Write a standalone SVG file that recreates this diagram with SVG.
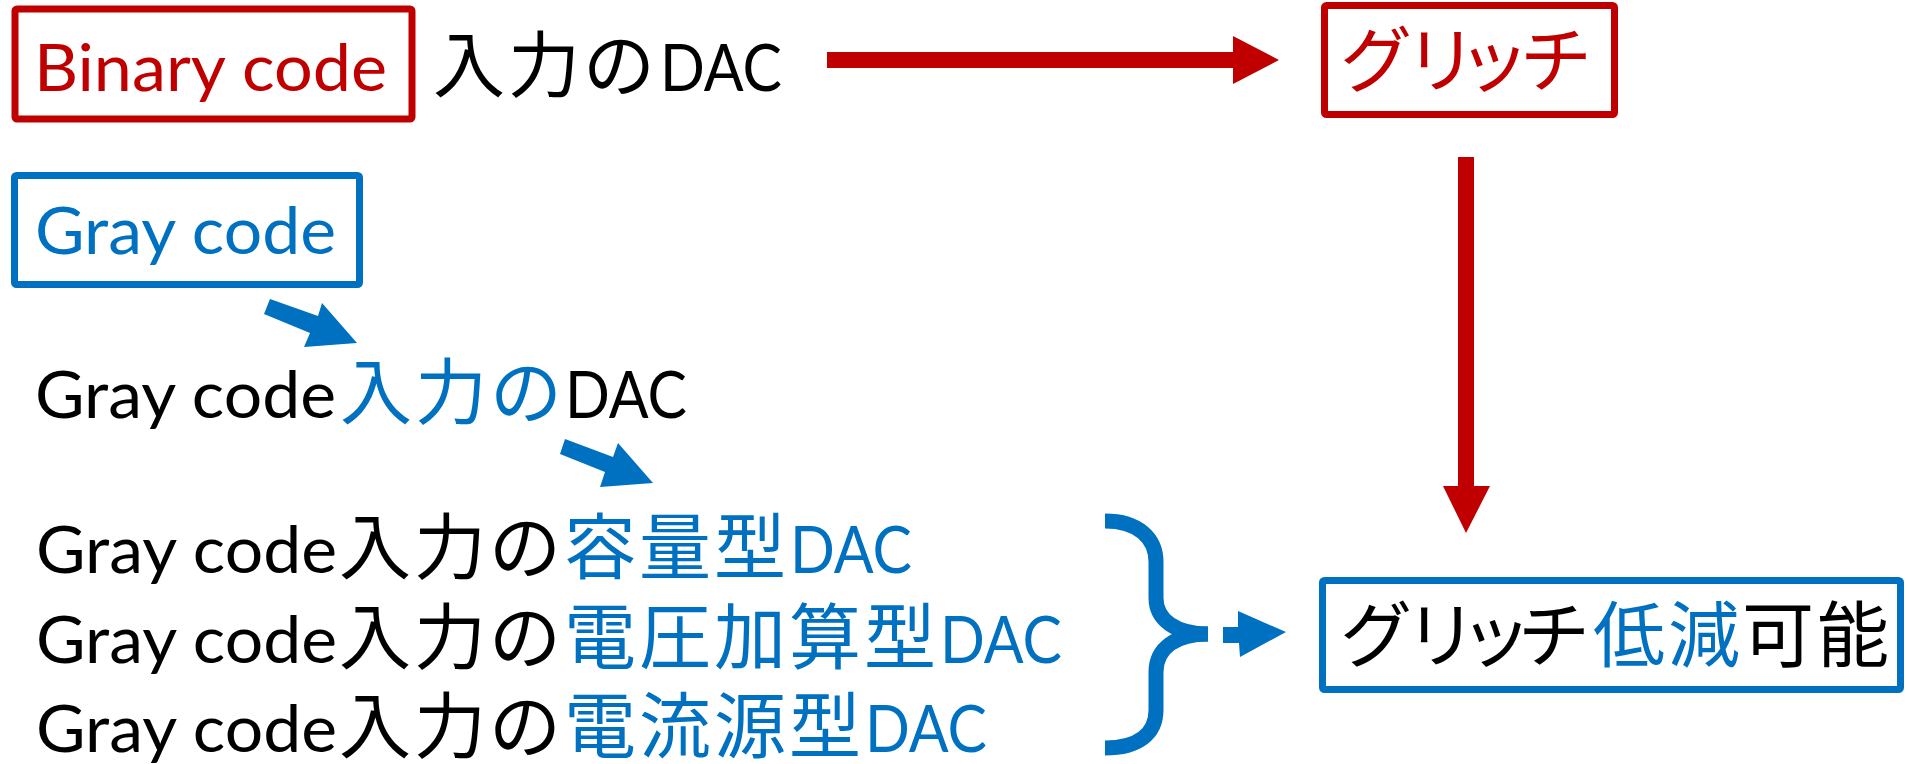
<svg xmlns="http://www.w3.org/2000/svg" width="1908" height="764" viewBox="0 0 1908 764">
<style>
.box{fill:#FFFFFF;stroke-width:7}
.red{stroke:#C00000}
.blue{stroke:#0070C0}
.lat{font-family:Lato,"Noto Sans","Noto Sans CJK JP",sans-serif;font-size:66px}
.jp{font-family:"Noto Sans CJK JP","Noto Sans CJK SC",sans-serif;font-size:72px}
.tr{fill:#C00000}
.tb{fill:#0070C0}
.tk{fill:#000000}
.fr{fill:#C00000}
.fb{fill:#0070C0}
.brace{fill:none;stroke:#0070C0;stroke-width:15;stroke-linecap:butt}
</style>
<rect width="1908" height="764" fill="#FFFFFF"/>
<g id="connectors">
<polygon class="fr" points="827,52 1233,52 1233,36 1279,60 1233,84 1233,68 827,68"/>
<polygon class="fr" points="1458,157 1474,157 1474,486 1490,486 1466,533 1443,486 1458,486"/>
<polygon class="fb" points="270,299 318,316 322,303 357,343 304,347 310,333 264,314"/>
<polygon class="fb" points="565,439 613,457 618,443 653,483 600,487 605,472 560,454"/>
<path class="brace" d="M1105,521 C1138,521 1156,538 1156,562 L1156,598 C1156,620 1176,634 1208,634"/>
<path class="brace" d="M1208,634 C1176,634 1156,648 1156,672 L1156,710 C1156,734 1138,748 1105,748"/>
<polygon class="fb" points="1223,627 1238,627 1238,611 1286,632 1240,657 1239,643 1223,643"/>
</g>
<g id="node-binary">
<rect class="box red" x="15" y="9" width="397" height="110" rx="2"/>
<text class="lat tr" x="34" y="91" textLength="353" lengthAdjust="spacingAndGlyphs">Binary code</text>
</g>
<g id="node-binary-dac">
<text class="jp tk" x="433 508 583" y="91">入力の</text>
<text class="lat tk" x="660" y="91" textLength="122" lengthAdjust="spacingAndGlyphs">DAC</text>
</g>
<g id="node-glitch">
<rect class="box red" x="1324.5" y="5.5" width="290" height="109" rx="2"/>
<text class="jp tr" x="1340 1405 1458 1520" y="86">グリッチ</text>
</g>
<g id="node-gray">
<rect class="box blue" x="14.5" y="175.5" width="345" height="109" rx="2"/>
<text class="lat tb" x="35" y="254" textLength="301" lengthAdjust="spacingAndGlyphs">Gray code</text>
</g>
<g id="node-gray-dac">
<text class="lat tk" x="35" y="418" textLength="301" lengthAdjust="spacingAndGlyphs">Gray code</text>
<text class="jp tb" x="340 415 490" y="418">入力の</text>
<text class="lat tk" x="565" y="418" textLength="122" lengthAdjust="spacingAndGlyphs">DAC</text>
</g>
<g id="node-cap-dac">
<text class="lat tk" x="36" y="573" textLength="301" lengthAdjust="spacingAndGlyphs">Gray code</text>
<text class="jp tk" x="339 414 489" y="573">入力の</text>
<text class="jp tb" x="564 639 714" y="573">容量型</text>
<text class="lat tb" x="790" y="573" textLength="122" lengthAdjust="spacingAndGlyphs">DAC</text>
</g>
<g id="node-volt-dac">
<text class="lat tk" x="36" y="663" textLength="301" lengthAdjust="spacingAndGlyphs">Gray code</text>
<text class="jp tk" x="339 414 489" y="663">入力の</text>
<text class="jp tb" x="564 639 714 789 864" y="663">電圧加算型</text>
<text class="lat tb" x="940" y="663" textLength="122" lengthAdjust="spacingAndGlyphs">DAC</text>
</g>
<g id="node-curr-dac">
<text class="lat tk" x="36" y="752" textLength="301" lengthAdjust="spacingAndGlyphs">Gray code</text>
<text class="jp tk" x="339 414 489" y="752">入力の</text>
<text class="jp tb" x="564 639 714 789" y="752">電流源型</text>
<text class="lat tb" x="865" y="752" textLength="122" lengthAdjust="spacingAndGlyphs">DAC</text>
</g>
<g id="node-result">
<rect class="box blue" x="1322.5" y="580.5" width="578" height="109" rx="2"/>
<text class="jp tk" x="1340 1405 1460 1518" y="661">グリッチ</text>
<text class="jp tb" x="1593 1668" y="661">低減</text>
<text class="jp tk" x="1742 1817" y="661">可能</text>
</g>
</svg>
